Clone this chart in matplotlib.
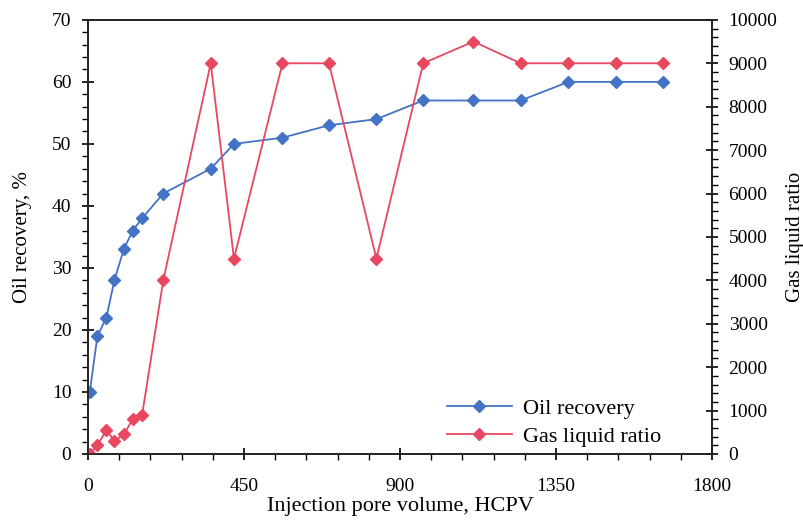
import matplotlib
matplotlib.use("Agg")
import matplotlib.pyplot as plt
from matplotlib.ticker import MultipleLocator

plt.rcParams['font.family'] = ['Liberation Serif', 'DejaVu Serif']

# injection pore volume (HCPV)
pv = [5, 27, 53, 76, 103, 129, 156, 217, 354, 421, 561, 695, 832, 967, 1112, 1248, 1386, 1522, 1659]
# oil recovery, %
oil_recovery = [10, 19, 22, 28, 33, 36, 38, 42, 46, 50, 51, 53, 54, 57, 57, 57, 60, 60, 60]
# gas liquid ratio
glr = [0, 200, 550, 300, 450, 800, 900, 4000, 9000, 4500, 9000, 9000, 4500, 9000, 9500, 9000, 9000, 9000, 9000]

BLUE = '#4472C4'
RED = '#E8475F'
FS = 14

fig = plt.figure(figsize=(8.04, 5.23), dpi=100)
ax = fig.add_axes([0.1095, 0.132, 0.776, 0.830])
ax2 = ax.twinx()

l1, = ax.plot(pv, oil_recovery, '-D', color=BLUE, markersize=6, linewidth=1.3, label='Oil recovery')
l2, = ax2.plot(pv, glr, '-D', color=RED, markersize=6, linewidth=1.3, label='Gas liquid ratio')

ax.set_xlim(0, 1800)
ax.set_ylim(0, 70)
ax2.set_ylim(0, 10000)

ax.xaxis.set_major_locator(MultipleLocator(450))
ax.xaxis.set_minor_locator(MultipleLocator(90))
ax.yaxis.set_major_locator(MultipleLocator(10))
ax.yaxis.set_minor_locator(MultipleLocator(2))
ax2.yaxis.set_major_locator(MultipleLocator(1000))
ax2.yaxis.set_minor_locator(MultipleLocator(200))

for a in (ax, ax2):
    a.tick_params(which='major', direction='inout', length=8, width=1.2, labelsize=FS, pad=8)
    a.tick_params(which='minor', direction='out', length=4, width=1.0)
    for s in a.spines.values():
        s.set_linewidth(1.2)
        s.set_color('#222222')
ax.tick_params(axis='x', pad=13)

ax.set_xlabel('Injection pore volume, HCPV', fontsize=16, labelpad=2)
ax.set_ylabel('Oil recovery, %', fontsize=15, labelpad=14)
ax2.set_ylabel('Gas liquid ratio', fontsize=15, labelpad=6)

ax.legend(handles=[l1, l2], loc='lower right', bbox_to_anchor=(0.95, -0.03), frameon=False,
          fontsize=16, handlelength=2.9, labelspacing=0.35, handletextpad=0.5)

fig.savefig('out.png', dpi=100)
